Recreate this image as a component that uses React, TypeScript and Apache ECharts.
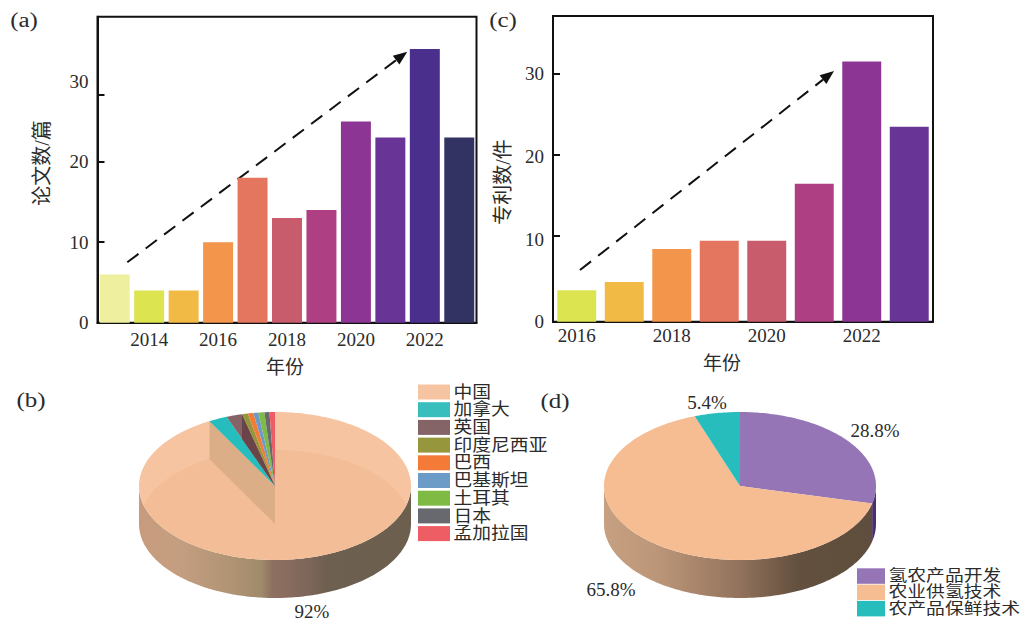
import React, { useEffect, useRef } from "react";
import * as echarts from "echarts";

const yearsA = ["2013","2014","2015","2016","2017","2018","2019","2020","2021","2022","2023"];
const papers = [6, 4, 4, 10, 18, 13, 14, 25, 23, 34, 23];
const colorsA = ["#EEF0A0","#DCE450","#F1BA45","#F3954B","#E4755E","#C85B6C","#AE3F82","#8C3594","#683596","#4A2F8C","#323263"];
const yearsC = ["2016","2017","2018","2019","2020","2021","2022","2023"];
const patents = [3.8, 4.8, 8.8, 9.8, 9.8, 16.7, 31.5, 23.6];
const colorsC = ["#DCE450","#F1BA45","#F3954B","#E4755E","#C85B6C","#AE3F82","#8C3594","#683596"];
const yLabels = [0, 10, 20, 30];
const yTicksA = [0, 10, 20, 28.3];
const yTicksC = [0, 10.4, 20.2, 30];

const countries = ["中国","加拿大","英国","印度尼西亚","巴西","巴基斯坦","土耳其","日本","孟加拉国"];
const countryShares = [92, 2.2, 1.9, 0.7, 0.65, 0.6, 0.7, 0.6, 0.65];
const countryColors = ["#F6C4A0","#25BDBD","#856468","#96963C","#F47A38","#6C9BC8","#7FBB44","#68696E","#EE5C64"];
const countryLegendColors = ["#F6C4A0","#38BEBD","#856468","#96963C","#F47A38","#6C9BC8","#7FBB44","#68696E","#EE5C64"];
const techs = ["氢农产品开发","农业供氢技术","农产品保鲜技术"];
const techShares = [28.8, 65.8, 5.4];
const techColors = ["#9575B5","#F6BC92","#28BDBD"];
const techWall = ["#4A2F70", "", ""];

const SERIF = '"Liberation Serif","Noto Sans CJK SC",serif';
const INK = "#2b2b2b";

const RX = 136, RY = 74, DEPTH = 38;
const CY = 486;
const CXB = 275, CXD = 740;

const wallB = [
  [0, "#C89B7E"], [0.15, "#C49E80"], [0.35, "#AF9373"], [0.45, "#9F8A6A"], [0.49, "#8E7062"],
  [0.63, "#7C6559"], [0.69, "#6E6050"], [1, "#6D5F4E"],
];
const wallD = [
  [0, "#C6A081"], [0.2, "#BC9678"], [0.5, "#93735E"], [0.72, "#63503E"], [1, "#5F4E3D"],
];

const pt = (cx: number, cy: number, f: number) => [
  cx + RX * Math.sin(2 * Math.PI * f),
  cy - RY * Math.cos(2 * Math.PI * f),
];
const arc = (cx: number, cy: number, a: number, b: number) => {
  const out: number[][] = [];
  const n = Math.max(2, Math.ceil((b - a) * 360));
  for (let i = 0; i <= n; i++) out.push(pt(cx, cy, a + ((b - a) * i) / n));
  return out;
};
const wallPoints = (cx: number, a: number, b: number) => [
  ...arc(cx, CY, a, b),
  ...arc(cx, CY + DEPTH, a, b).reverse(),
];
const lens = (cx: number) => {
  const up: number[][] = [];
  const down: number[][] = [];
  const half = RX * Math.sqrt(1 - Math.pow(DEPTH / 2 / RY, 2));
  for (let i = 0; i <= 80; i++) {
    const x = -half + (2 * half * i) / 80;
    const h = RY * Math.sqrt(Math.max(0, 1 - (x * x) / (RX * RX)));
    up.push([cx + x, CY + DEPTH - h]);
    down.push([cx + x, CY + h]);
  }
  return [...up, ...down.reverse()];
};
const gradient = (stops: any[]) =>
  new echarts.graphic.LinearGradient(0, 0, 1, 0, stops.map(([offset, color]) => ({ offset, color })));
const cumulate = (v: number[]) => {
  const total = v.reduce((s, x) => s + x, 0);
  let run = 0;
  return v.map((x) => {
    const a = run / total;
    run += x;
    return [a, run / total];
  });
};

function pieItem(cx: number, shares: number[], colors: string[], wallFill: (i: number) => any, extra: (i: number, spans: number[][]) => any[]) {
  const spans = cumulate(shares);
  return (params: any) => {
    const i = params.dataIndex;
    const [a, b] = spans[i];
    const lo = Math.max(a, 0.25), hi = Math.min(b, 0.75);
    const children: any[] = [];
    if (hi > lo) {
      children.push({ type: "polygon", shape: { points: wallPoints(cx, lo, hi) }, style: { fill: wallFill(i) } });
    }
    children.push({
      type: "polygon",
      shape: { points: [[cx, CY], ...arc(cx, CY, a, b)] },
      style: { fill: colors[i] },
    });
    children.push(...extra(i, spans));
    return { type: "group", children };
  };
}

const renderB = pieItem(CXB, countryShares, countryColors, () => gradient(wallB), (i, spans) => {
  const after: any[] = [];
  if (i === 0) {
    const p = pt(CXB, CY, spans[0][1]);
    after.push({ type: "polygon", shape: { points: lens(CXB) }, style: { fill: "rgba(232,170,120,0.22)" } });
    after.push({
      type: "polygon",
      shape: { points: [p, [p[0], p[1] + DEPTH], [CXB, CY + DEPTH], [CXB, CY]] },
      style: { fill: "#DCAE88" },
    });
  }
  if (i === 2) {
    const top = pt(CXB, CY, spans[2][1]);
    const tL = pt(CXB, CY, spans[2][0]);
    const k = (top[0] - CXB) / (tL[0] - CXB);
    after.push({
      type: "polygon",
      shape: { points: [top, [top[0], CY + (tL[1] - CY) * k], [CXB, CY]] },
      style: { fill: "#6A4449" },
    });
  }
  return after;
});
const renderD = pieItem(CXD, techShares, techColors, (i) => (techWall[i] ? techWall[i] : gradient(wallD)), () => []);

const axisLabelBase = { color: INK, fontFamily: SERIF, fontSize: 19 };
const everyOther = (first: number) => (idx: number) => (idx - first) % 2 === 0 && idx >= first;

function barParts(i: number, cats: string[], vals: number[], cols: string[], max: number, ticks: number[], first: number, width: string, margin: number, labelPad: number[]) {
  return {
    x: {
      type: "category", gridIndex: i, data: cats,
      axisLine: { show: true, onZero: false, lineStyle: { color: "#111", width: 2 } },
      axisTick: { show: true, inside: true, length: 8, alignWithLabel: true, interval: (idx: number) => everyOther(first)(idx), lineStyle: { color: "#111", width: 2 } },
      axisLabel: { ...axisLabelBase, margin, interval: (idx: number) => everyOther(first)(idx), hideOverlap: false },
    },
    y: {
      type: "value", gridIndex: i, min: 0, max,
      splitLine: { show: false },
      axisLine: { show: true, lineStyle: { color: "#111", width: 2 } },
      axisTick: { show: true, inside: true, length: 7, customValues: ticks, lineStyle: { color: "#111", width: 2 } },
      axisLabel: { ...axisLabelBase, margin: 9, customValues: yLabels, padding: labelPad },
    },
    s: {
      type: "bar", xAxisIndex: i, yAxisIndex: i, barWidth: width,
      data: vals.map((v, k) => ({ value: v, itemStyle: { color: cols[k] } })),
    },
  };
}

const txt = (text: string, x: number, y: number, size = 19, rotation = 0, scaleX = 1) => ({
  type: "text", x, y, rotation, scaleX,
  style: { text, fontFamily: SERIF, fontSize: size, fill: INK, textAlign: "center", verticalAlign: "middle" },
});
const arrow = (x1: number, y1: number, x2: number, y2: number, hl: number, hw: number) => {
  const L = Math.hypot(x2 - x1, y2 - y1);
  const ux = (x2 - x1) / L, uy = (y2 - y1) / L;
  return [
    { type: "line", shape: { x1, y1, x2: x2 - ux * hl, y2: y2 - uy * hl }, style: { stroke: "#111", lineWidth: 2, lineDash: [14, 9] } },
    { type: "polygon", shape: { points: [[x2, y2], [x2 - ux * hl - uy * hw, y2 - uy * hl + ux * hw], [x2 - ux * hl + uy * hw, y2 - uy * hl - ux * hw]] }, style: { fill: "#111" } },
  ];
};
const legend = (names: string[], colors: string[], x: number, y: number, w: number, h: number, step: number, squash: number) =>
  names.flatMap((n, i) => [
    { type: "rect", shape: { x, y: y + i * step, width: w, height: h }, style: { fill: colors[i] } },
    { type: "text", x: x + w + 3.5, y: y + i * step + h / 2, scaleY: squash, style: { text: n, fontFamily: SERIF, fontSize: 18.8, fill: INK, textAlign: "left", verticalAlign: "middle" } },
  ]);

export default function App() {
  const ref = useRef<HTMLDivElement>(null);
  useEffect(() => {
    const chart = echarts.init(ref.current!, undefined, { renderer: "svg" });
    const a = barParts(0, yearsA, papers, colorsA, 38, yTicksA, 1, "87%", 7, [8, 0, 0, 0]);
    const c = barParts(1, yearsC, patents, colorsC, 37, yTicksC, 0, "82%", 4, [0, 0, 0, 0]);
    chart.setOption({
      animation: false,
      backgroundColor: "#fff",
      grid: [
        { left: 97.5, top: 16.7, width: 379, height: 306, show: true, borderColor: "#111", borderWidth: 2, backgroundColor: "transparent" },
        { left: 553, top: 16, width: 380, height: 305.7, show: true, borderColor: "#111", borderWidth: 2, backgroundColor: "transparent" },
      ],
      xAxis: [a.x, c.x],
      yAxis: [a.y, c.y],
      series: [
        a.s,
        c.s,
        { type: "custom", coordinateSystem: "none", silent: true, data: countryShares, renderItem: renderB },
        { type: "custom", coordinateSystem: "none", silent: true, data: techShares, renderItem: renderD },
      ],
      graphic: [
        { type: "group", silent: true, children: [
          txt("(a)", 24, 20, 20, 0, 1.25),
          txt("(c)", 503, 20, 20, 0, 1.25),
          txt("(b)", 31, 400, 20, 0, 1.25),
          txt("(d)", 555, 401, 20, 0, 1.25),
          txt("论文数/篇", 42, 163, 20, Math.PI / 2),
          txt("专利数/件", 503, 182, 20, Math.PI / 2),
          txt("年份", 285, 367),
          txt("年份", 722, 363),
          txt("92%", 312, 611, 19),
          txt("28.8%", 875, 430, 19),
          txt("5.4%", 707, 402, 19),
          txt("65.8%", 611, 589, 19),
          ...arrow(127.3, 262.3, 407.3, 51.7, 14, 5.5),
          ...arrow(580, 270, 834, 71, 14, 5.5),
          ...legend(countries, countryLegendColors, 418, 384.5, 32, 15, 17.7, 0.9),
          ...legend(techs, techColors, 857, 568.3, 28, 15.5, 16.3, 0.82),
        ] },
      ],
    });
    return () => chart.dispose();
  }, []);
  return <div ref={ref} style={{ position: "absolute", left: 0, top: 0, width: 1024, height: 621 }} />;
}
